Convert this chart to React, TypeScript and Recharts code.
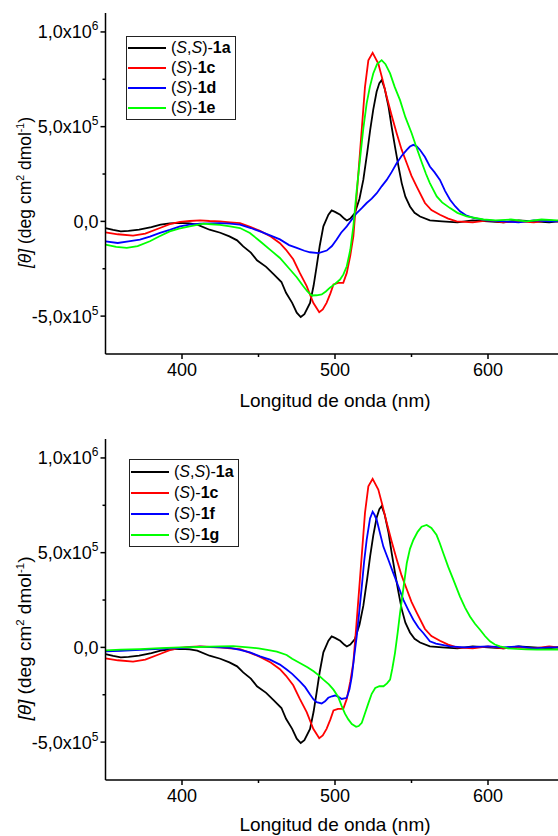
import { LineChart, Line, XAxis, YAxis, Legend, Label } from "recharts";

const FONT = '"Liberation Sans", Arial, Helvetica, sans-serif';

// wavelength (nm) and [θ] in units of 1e5 deg cm2 dmol-1
const wl1a = [350, 355, 360, 365, 372, 380, 386, 392, 399, 405, 410, 418, 425, 431, 436, 440, 445, 449, 455, 460, 465, 468, 472, 475, 477.6, 480, 483.7, 486, 488, 490, 492.4, 495.7, 497.8, 500, 503.4, 506, 507.7, 510, 513, 516, 518.5, 521, 523, 525, 527.2, 529, 530.5, 532.5, 535, 537, 539.2, 541.5, 543.6, 546, 549, 552, 555.6, 562, 570, 580, 590, 600, 610, 620, 630, 640, 650];
const th1a = [-0.35, -0.45, -0.53, -0.5, -0.44, -0.3, -0.17, -0.1, -0.08, -0.1, -0.17, -0.44, -0.6, -0.79, -1.0, -1.32, -1.65, -2.05, -2.4, -2.8, -3.2, -3.77, -4.3, -4.82, -5.05, -4.9, -4.3, -3.4, -2.37, -1.3, -0.26, 0.35, 0.58, 0.5, 0.35, 0.15, 0.05, 0.15, 0.44, 1.2, 2.19, 3.6, 4.83, 5.9, 6.84, 7.3, 7.46, 7.0, 6.05, 5.0, 3.95, 2.9, 2.02, 1.3, 0.79, 0.45, 0.26, 0.05, 0.0, -0.05, 0.05, 0.0, -0.05, 0.05, 0.0, -0.05, 0.05];

const wl1c = [350, 358, 368, 376, 385.6, 392, 398.7, 405, 411.8, 418, 424.8, 431.4, 437.9, 445, 451, 458, 464, 468, 472.7, 477, 481.5, 485.8, 489.7, 492, 494.5, 497, 499, 502, 505.4, 507.7, 510, 512, 514, 516.3, 518, 519.6, 521.8, 524.6, 528.3, 531, 533.8, 537, 540.3, 543.5, 546.9, 550, 553.4, 558.8, 563, 568.6, 574, 579.5, 590, 600, 610, 620, 630, 640, 650];
const th1c = [-0.58, -0.68, -0.75, -0.65, -0.35, -0.15, -0.03, 0.02, 0.05, 0.02, 0.0, -0.05, -0.09, -0.3, -0.5, -0.8, -1.15, -1.5, -2.0, -2.72, -3.42, -4.3, -4.79, -4.65, -4.3, -3.8, -3.33, -3.25, -3.24, -2.72, -1.8, -0.79, 1.2, 3.6, 5.4, 7.1, 8.5, 8.9, 8.33, 7.5, 6.58, 5.6, 4.65, 3.8, 3.07, 2.4, 1.84, 0.97, 0.6, 0.35, 0.15, 0.0, -0.05, 0.05, -0.05, 0.0, -0.05, 0.05, -0.05];

const wl1d = [350, 358, 365, 372.5, 379, 385.6, 392, 398.7, 405, 411.8, 418, 424.8, 431.4, 437.9, 445, 451, 458, 464, 470, 475, 480, 483.7, 489.2, 494.6, 498, 501.1, 504, 507.7, 511, 514.2, 517.5, 520.7, 524, 527.3, 530.5, 533.8, 537, 540.3, 543.5, 546.9, 549, 551.2, 553.5, 555.6, 558.8, 562, 565, 568.6, 572, 575.2, 578.5, 581.7, 586, 590.5, 599, 610, 620, 630, 640, 650];
const th1d = [-1.05, -1.14, -1.05, -0.96, -0.8, -0.61, -0.45, -0.26, -0.17, -0.12, -0.1, -0.09, -0.12, -0.17, -0.35, -0.53, -0.75, -0.95, -1.25, -1.4, -1.55, -1.63, -1.67, -1.54, -1.3, -0.96, -0.6, -0.26, 0.1, 0.44, 0.7, 0.97, 1.2, 1.49, 1.85, 2.19, 2.6, 3.07, 3.45, 3.77, 3.95, 4.04, 3.95, 3.77, 3.4, 2.9, 2.6, 2.19, 1.6, 1.14, 0.8, 0.53, 0.3, 0.18, 0.05, 0.0, -0.05, 0.05, 0.0, 0.0];

const wl1e = [350, 357, 363.9, 371, 379, 385, 392, 398, 405, 414, 419, 424.8, 431.4, 437.9, 444.4, 451, 457.5, 464, 470.6, 475, 479.3, 482, 484.8, 488, 491.3, 494, 496.7, 500, 503.3, 505.5, 507.7, 510, 512, 514, 516.3, 518.5, 520.7, 522.8, 525, 527.5, 530.5, 533, 536, 539, 542.5, 546, 550.1, 553.5, 556.9, 559.5, 562, 566.5, 570, 575.2, 580, 586.1, 597, 605, 615, 625, 635, 645, 650];
const th1e = [-1.23, -1.35, -1.4, -1.3, -1.05, -0.8, -0.53, -0.38, -0.26, -0.12, -0.15, -0.18, -0.26, -0.35, -0.61, -1.05, -1.49, -1.93, -2.54, -2.95, -3.42, -3.7, -3.91, -3.9, -3.86, -3.7, -3.5, -3.3, -3.07, -2.8, -2.37, -1.5, -0.26, 1.5, 3.25, 4.9, 6.23, 7.1, 7.81, 8.3, 8.51, 8.3, 7.81, 7.1, 6.4, 5.5, 4.65, 3.85, 3.07, 2.5, 2.02, 1.32, 1.0, 0.7, 0.45, 0.26, 0.1, 0.05, 0.1, 0.0, 0.1, 0.05, 0.1];

const wl1f = [350, 360, 372.5, 385, 398.7, 411.8, 424.8, 431.4, 437.9, 444.4, 451, 457.5, 464, 468.4, 472, 477, 480.5, 483.7, 486, 488, 491.3, 493.5, 495.6, 498, 500, 502, 504.4, 507.7, 509.5, 511, 512.5, 514.2, 516, 517.5, 519, 520.7, 522.9, 524.6, 525.8, 527.3, 529.5, 531.6, 535, 538.1, 541.5, 544.7, 548, 551.2, 554.5, 557.7, 562, 566, 575, 585, 600, 610, 620, 630, 640, 650];
const th1f = [-0.21, -0.18, -0.13, -0.08, -0.04, 0.04, 0.0, -0.03, -0.13, -0.26, -0.47, -0.65, -0.91, -1.17, -1.4, -1.79, -2.1, -2.49, -2.75, -2.89, -2.96, -2.85, -2.66, -2.58, -2.54, -2.6, -2.72, -2.66, -2.2, -1.53, -0.5, 0.58, 2.0, 3.21, 4.5, 5.67, 6.81, 7.16, 7.0, 6.72, 6.0, 5.32, 4.6, 3.92, 3.2, 2.51, 1.95, 1.46, 1.05, 0.76, 0.32, 0.2, 0.05, 0.0, 0.05, 0.0, 0.05, -0.05, 0.0, 0.0];

const wl1g = [350, 360, 372.5, 385.6, 398.7, 411.8, 424.8, 433.5, 443.3, 450, 455.7, 462, 468.4, 472, 477, 482, 486, 489, 492.4, 496, 499, 502, 504.4, 506.5, 508.7, 511, 513.8, 515.5, 517.5, 519.5, 521.9, 524, 526.3, 529, 531.7, 534, 536, 537.5, 539.2, 541, 542.5, 545, 546.9, 549, 551.2, 554, 556.6, 559.9, 563, 566.4, 568.5, 570.8, 574, 577.4, 581.7, 585, 588.2, 591.5, 594.8, 598, 601.3, 604.5, 607.8, 613, 618.7, 625, 632, 640, 650];
const th1g = [-0.16, -0.12, -0.09, -0.04, 0.0, 0.02, 0.05, 0.07, 0.0, -0.05, -0.13, -0.22, -0.4, -0.6, -0.82, -1.05, -1.26, -1.45, -1.7, -1.95, -2.23, -2.6, -3.1, -3.5, -3.8, -4.05, -4.19, -4.15, -3.98, -3.5, -2.93, -2.45, -2.14, -2.05, -2.05, -1.9, -1.7, -1.1, -0.3, 0.8, 1.81, 3.3, 4.44, 5.2, 5.67, 6.1, 6.37, 6.46, 6.3, 5.93, 5.5, 4.97, 4.25, 3.56, 2.68, 2.1, 1.63, 1.25, 0.93, 0.6, 0.32, 0.15, 0.05, -0.05, -0.08, -0.1, -0.12, -0.1, -0.12];

const xTicks = [400, 450, 500, 550, 600];
const xLabelled = [400, 500, 600];
const yTicks = [-500000, -250000, 0, 250000, 500000, 750000, 1000000];
const yLabels: Record<string, [string, string]> = {
  "1000000": ["1,0x10", "6"],
  "500000": ["5,0x10", "5"],
  "0": ["0,0", ""],
  "-500000": ["-5,0x10", "5"],
};

const toPoints = (wl: number[], th: number[]) => wl.map((w, i) => ({ wl: w, theta: th[i] * 1e5 }));

type Series = { key: string; twoS: boolean; code: string; color: string; data: { wl: number; theta: number }[] };

const s1a: Series = { key: "1a", twoS: true, code: "1a", color: "#000000", data: toPoints(wl1a, th1a) };
const s1c: Series = { key: "1c", twoS: false, code: "1c", color: "#ff0000", data: toPoints(wl1c, th1c) };
const s1d: Series = { key: "1d", twoS: false, code: "1d", color: "#0000ff", data: toPoints(wl1d, th1d) };
const s1e: Series = { key: "1e", twoS: false, code: "1e", color: "#00ff00", data: toPoints(wl1e, th1e) };
const s1f: Series = { key: "1f", twoS: false, code: "1f", color: "#0000ff", data: toPoints(wl1f, th1f) };
const s1g: Series = { key: "1g", twoS: false, code: "1g", color: "#00ff00", data: toPoints(wl1g, th1g) };

const PLOT_TOP = 13;
const PLOT_H = 341;

function XTick(props: any) {
  const { x, y, payload } = props;
  const major = xLabelled.includes(payload.value);
  return (
    <g>
      <line x1={x} x2={x} y1={y} y2={y + (major ? 5 : 3)} stroke="#000" strokeWidth={1.5} />
      {major && (
        <text x={x} y={y + 22} textAnchor="middle" fontSize={18} fontFamily={FONT} fill="#000">
          {payload.value}
        </text>
      )}
    </g>
  );
}

function TopTick(props: any) {
  const { x, y } = props;
  return <line x1={x} x2={x} y1={y} y2={y + 3} stroke="#000" strokeWidth={1.5} />;
}

function YTick(props: any) {
  const { x, y, payload } = props;
  const lab = yLabels[String(payload.value)];
  return (
    <g>
      <line x1={x - (lab ? 5 : 3)} x2={x} y1={y} y2={y} stroke="#000" strokeWidth={1.5} />
      {lab && (
        <text x={x - 7} y={y + 6.5} textAnchor="end" fontSize={18} fontFamily={FONT} fill="#000">
          {lab[0]}
          {lab[1] && (
            <tspan dy={-8} fontSize={12}>
              {lab[1]}
            </tspan>
          )}
        </text>
      )}
    </g>
  );
}

function LegendBox({ items, rowH }: { items: Series[]; rowH: number }) {
  return (
    <div style={{ border: "1px solid #222", background: "#fff", padding: "1px 4px 1px 1px", fontFamily: FONT, fontSize: 16, color: "#000" }}>
      {items.map((s) => (
        <div key={s.key} style={{ display: "flex", alignItems: "center", height: rowH, whiteSpace: "nowrap" }}>
          <span style={{ display: "inline-block", width: 38, height: 2, background: s.color, marginRight: 5 }} />
          <span>
            (<i>S</i>
            {s.twoS && (
              <>
                ,<i>S</i>
              </>
            )}
            )-<b>{s.code}</b>
          </span>
        </div>
      ))}
    </div>
  );
}

function Panel({ series, top, height, legendLeft, legendTop, rowH, titleShift, titleSize, xTitleDy }: {
  series: Series[]; top: number; height: number; legendLeft: number; legendTop: number; rowH: number; titleShift: number; titleSize: number; xTitleDy: number;
}) {
  const xAxisH = height - PLOT_TOP - PLOT_H;
  return (
    <div style={{ position: "absolute", left: 0, top }}>
      <LineChart width={600} height={height} margin={{ top: PLOT_TOP, right: 35.5, left: 5.5, bottom: 0 }}>
        <XAxis
          xAxisId="top"
          orientation="top"
          type="number"
          dataKey="wl"
          domain={[350, 650]}
          ticks={xTicks}
          height={0}
          tickSize={0}
          tickMargin={0}
          tickLine={false}
          tick={(p: any) => <TopTick {...p} />}
          axisLine={{ stroke: "#000", strokeWidth: 1.5 }}
          allowDataOverflow
        />
        <XAxis
          type="number"
          dataKey="wl"
          domain={[350, 650]}
          ticks={xTicks}
          height={xAxisH}
          tickSize={0}
          tickMargin={0}
          tickLine={false}
          tick={(p: any) => <XTick {...p} />}
          axisLine={{ stroke: "#000", strokeWidth: 1.5 }}
          allowDataOverflow
        >
          <Label
            content={(p: any) => {
              const vb = p.viewBox;
              return (
                <text x={vb.x + vb.width / 2} y={vb.y + xTitleDy} textAnchor="middle" fontSize={19} fontFamily={FONT} fill="#000">
                  Longitud de onda (nm)
                </text>
              );
            }}
          />
        </XAxis>
        <YAxis
          type="number"
          domain={[-700000, 1100000]}
          ticks={yTicks}
          width={100}
          tickSize={0}
          tickMargin={0}
          tickLine={false}
          tick={(p: any) => <YTick {...p} />}
          axisLine={{ stroke: "#000", strokeWidth: 1.5 }}
          allowDataOverflow
        >
          <Label
            content={(p: any) => {
              const vb = p.viewBox;
              const cx = 31;
              const cy = vb.y + vb.height / 2 + titleShift;
              return (
                <text x={cx} y={cy} transform={`rotate(-90 ${cx} ${cy})`} textAnchor="middle" fontSize={titleSize} fontFamily={FONT} fill="#000">
                  <tspan fontStyle="italic">[θ]</tspan>
                  <tspan> (deg cm</tspan>
                  <tspan dy={-7} fontSize={titleSize * 0.6}>2</tspan>
                  <tspan dy={7}> dmol</tspan>
                  <tspan dy={-7} fontSize={titleSize * 0.6}>-1</tspan>
                  <tspan dy={7}>)</tspan>
                </text>
              );
            }}
          />
        </YAxis>
        {series.map((s) => (
          <Line
            key={s.key}
            data={s.data}
            dataKey="theta"
            type="linear"
            stroke={s.color}
            strokeWidth={1.8}
            dot={false}
            activeDot={false}
            isAnimationActive={false}
          />
        ))}
        <Legend
          layout="vertical"
          align="center"
          verticalAlign="middle"
          wrapperStyle={{ left: legendLeft, top: legendTop, width: "auto", height: "auto" }}
          content={() => <LegendBox items={series} rowH={rowH} />}
        />
      </LineChart>
    </div>
  );
}

export default function App() {
  return (
    <div style={{ position: "absolute", left: 0, top: 0, width: 558, height: 836, overflow: "hidden", background: "#fff" }}>
      <Panel series={[s1a, s1c, s1d, s1e]} top={0} height={420} legendLeft={126} legendTop={36} rowH={20} titleShift={9} titleSize={17.5} xTitleDy={53} />
      <Panel series={[s1a, s1c, s1f, s1g]} top={426} height={410} legendLeft={129} legendTop={33} rowH={21} titleShift={29} titleSize={19} xTitleDy={51} />
    </div>
  );
}
